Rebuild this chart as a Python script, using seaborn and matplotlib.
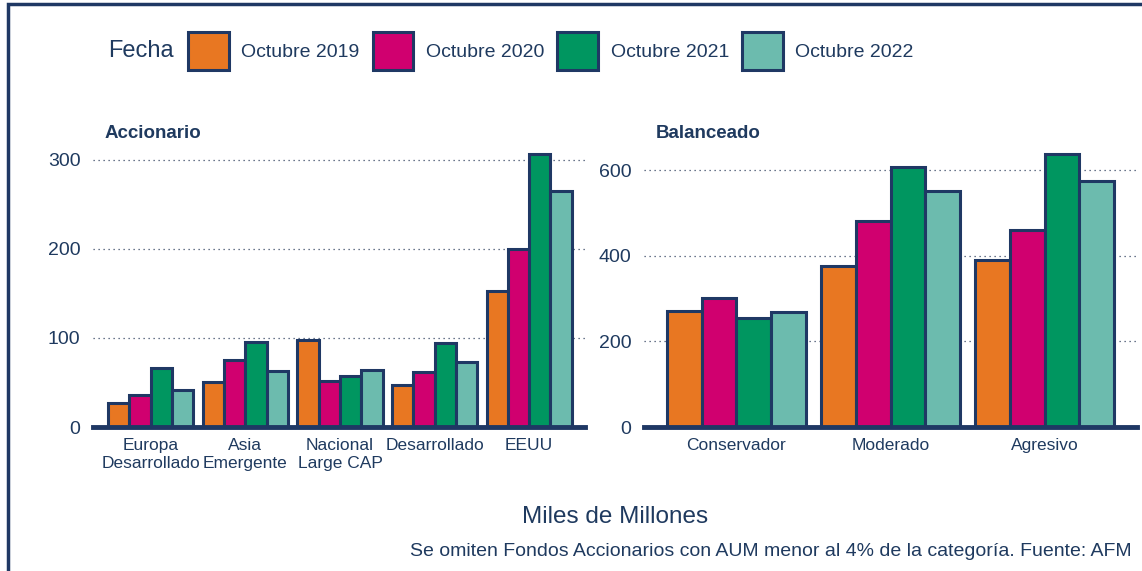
import pandas as pd
import numpy as np
import matplotlib
matplotlib.use('Agg')
import matplotlib.pyplot as plt
import matplotlib.patches as mpatches
import seaborn as sns

navy = '#1f3864'
txt = '#1f3a5f'
colores = ['#e87722', '#d0006f', '#009660', '#6cbbae']
fechas = ['Octubre 2019', 'Octubre 2020', 'Octubre 2021', 'Octubre 2022']

acc_cat = ['Europa\nDesarrollado', 'Asia\nEmergente', 'Nacional\nLarge CAP', 'Desarrollado', 'EEUU']
acc_2019 = [27, 50, 98, 47, 153]
acc_2020 = [36, 75, 52, 62, 200]
acc_2021 = [66, 95, 57, 94, 306]
acc_2022 = [41, 63, 64, 73, 265]

bal_cat = ['Conservador', 'Moderado', 'Agresivo']
bal_2019 = [272, 375, 391]
bal_2020 = [301, 482, 461]
bal_2021 = [254, 608, 637]
bal_2022 = [269, 552, 574]

def largo(cats, series):
    filas = []
    for f, vals in zip(fechas, series):
        for c, v in zip(cats, vals):
            filas.append({'cat': c, 'Fecha': f, 'valor': v})
    return pd.DataFrame(filas)

acc_df = largo(acc_cat, [acc_2019, acc_2020, acc_2021, acc_2022])
bal_df = largo(bal_cat, [bal_2019, bal_2020, bal_2021, bal_2022])

sns.set_style('white')
plt.rcParams['font.family'] = ['Liberation Sans', 'DejaVu Sans']
plt.rcParams['text.color'] = txt

W, H = 1142, 571
fig = plt.figure(figsize=(W / 100, H / 100), dpi=100)

ax1 = fig.add_axes([93 / W, 1 - 427 / H, 492 / W, 277 / H])
ax2 = fig.add_axes([644 / W, 1 - 427 / H, 493 / W, 277 / H])

for ax, df, cats, ylim, xlim, ticks, titulo in [
        (ax1, acc_df, acc_cat, 311, (-0.61, 4.59), [0, 100, 200, 300], 'Accionario'),
        (ax2, bal_df, bal_cat, 647, (-0.6, 2.6), [0, 200, 400, 600], 'Balanceado')]:
    sns.barplot(data=df, x='cat', y='valor', hue='Fecha', order=cats, hue_order=fechas,
                palette=colores, saturation=1, width=0.9, gap=0, edgecolor=navy,
                linewidth=2.2, legend=False, ax=ax, zorder=2)
    ax.set_ylim(0, ylim)
    ax.set_xlim(*xlim)
    ax.set_yticks(ticks)
    ax.set_xlabel('')
    ax.set_ylabel('')
    for s in ['top', 'right', 'left']:
        ax.spines[s].set_visible(False)
    ax.spines['bottom'].set_color(navy)
    ax.spines['bottom'].set_linewidth(3.5)
    ax.spines['bottom'].set_zorder(3)
    ax.grid(axis='y', linestyle=(0, (1, 3)), color='#3a4a66', linewidth=0.9, zorder=0)
    ax.grid(axis='x', visible=False)
    ax.set_axisbelow(True)
    ax.tick_params(axis='y', length=0, pad=9, labelsize=14, labelcolor=txt)
    ax.tick_params(axis='x', length=4, width=2.5, color=navy, pad=4, labelsize=12.5, labelcolor=txt)
    ax.text(12 / 492, 1 + 17 / 277, titulo, transform=ax.transAxes, fontsize=13.5,
            fontweight='bold', color=txt, va='center', ha='left')

handles = [mpatches.Patch(facecolor=c, edgecolor=navy, linewidth=2.2) for c in colores]
fig.legend(handles, fechas, loc='center left', bbox_to_anchor=(188 / W, 1 - 51 / H),
           ncol=4, frameon=False, fontsize=14, handlelength=2.1, handleheight=2.7,
           handletextpad=0.65, columnspacing=0.66, borderpad=0, borderaxespad=0,
           labelcolor=txt)
fig.text(108 / W, 1 - 51 / H, 'Fecha', fontsize=17, color=txt, va='center', ha='left')

fig.text(615 / W, 1 - 517 / H, 'Miles de Millones', fontsize=17.5, color=txt,
         va='center', ha='center')
fig.text(1132 / W, 1 - 551 / H,
         'Se omiten Fondos Accionarios con AUM menor al 4% de la categoría. Fuente: AFM',
         fontsize=14, color=txt, va='center', ha='right')

marco = mpatches.Rectangle((7.5 / W, -0.1), 1.2, 1 - 4 / H + 0.1, transform=fig.transFigure,
                           fill=False, edgecolor=navy, linewidth=2.5)
fig.patches.append(marco)

fig.savefig('out.png', dpi=100)
